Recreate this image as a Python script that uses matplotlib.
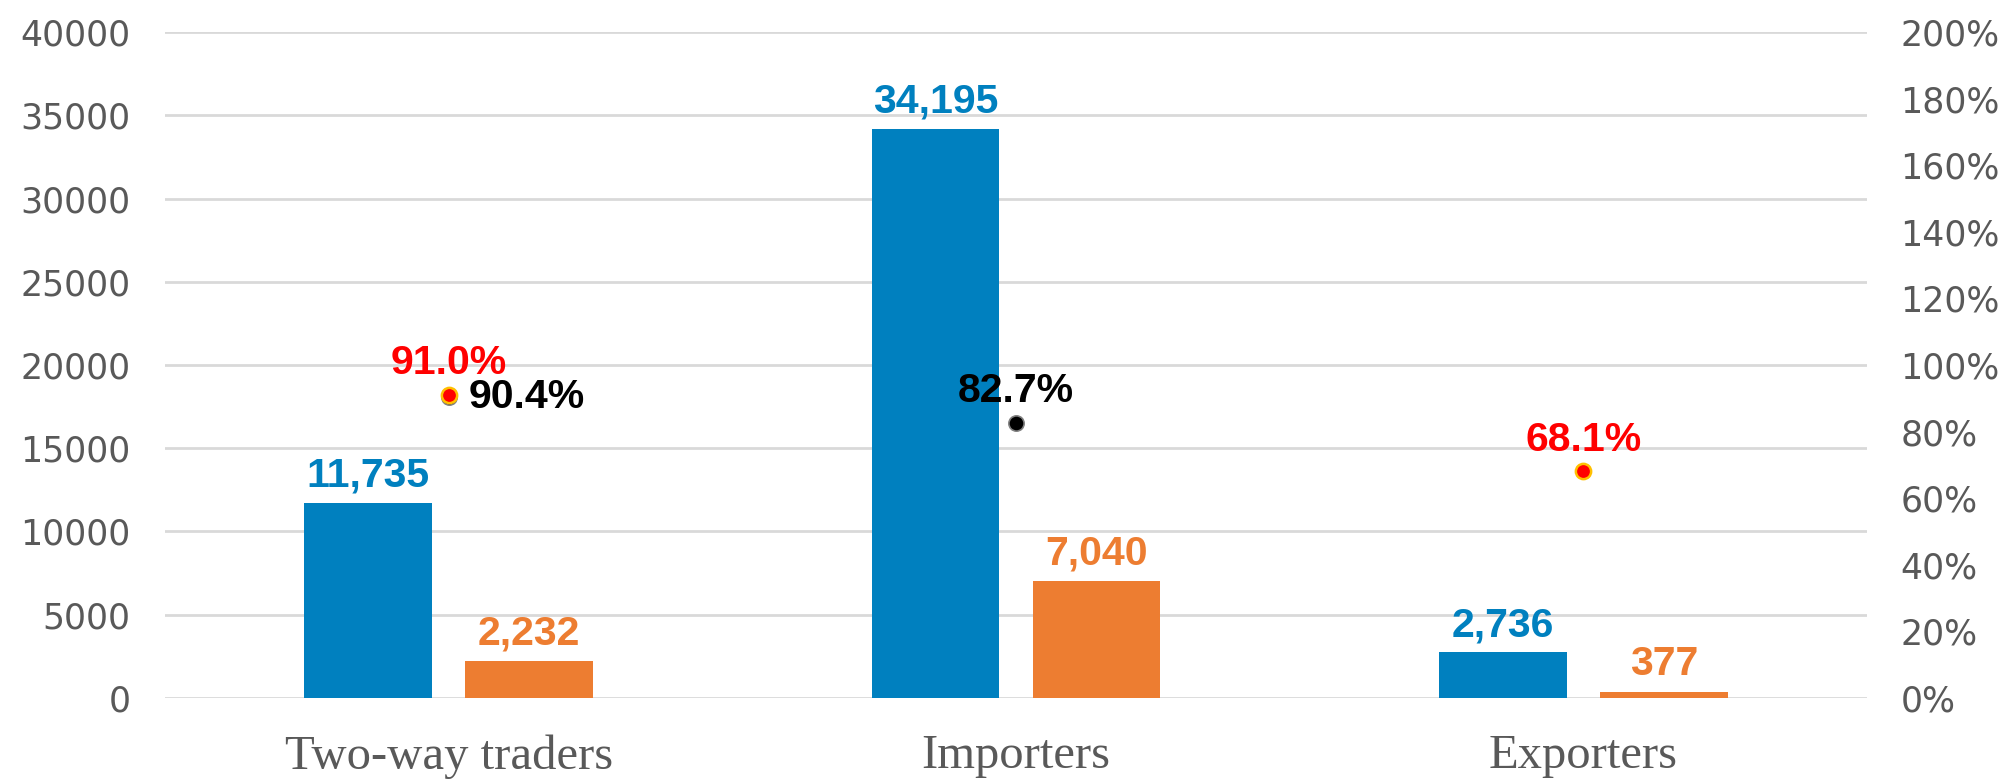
import matplotlib.pyplot as plt
import numpy as np

categories = ['Two-way traders', 'Importers', 'Exporters']
blue_values = [11735, 34195, 2736]
orange_values = [2232, 7040, 377]
red_share = [0.910, np.nan, 0.681]
black_share = [0.904, 0.827, np.nan]

BLUE = '#0080BF'
ORANGE = '#ED7D31'
GRID = '#D9D9D9'
TICK_GREY = '#595959'
LABEL_SIZE = 29.5


def draw_bars(ax, x):
    width = 0.225
    offset = 0.142
    bars_blue = ax.bar(x - offset, blue_values, width, color=BLUE, zorder=3)
    bars_orange = ax.bar(x + offset, orange_values, width, color=ORANGE, zorder=3)
    for bars, color in [(bars_blue, BLUE), (bars_orange, ORANGE)]:
        labels = [f'{v:,.0f}' for v in bars.datavalues]
        ax.bar_label(bars, labels=labels, padding=6, color=color,
                     fontsize=LABEL_SIZE, fontweight='bold', family='Liberation Sans')


def label_point(ax, xi, v, text, color, offset):
    dx, dy = offset
    if dx > 0:
        ha, va = 'left', 'center'
    else:
        ha, va = 'center', 'bottom'
    ax.annotate(text, (xi, v), xytext=(dx, dy), textcoords='offset points',
                ha=ha, va=va, color=color, fontsize=LABEL_SIZE,
                fontweight='bold', family='Liberation Sans')


def draw_shares(ax, x):
    ax.plot(x, black_share, 'o', color='black', markeredgecolor='#808080',
            markersize=11, markeredgewidth=1.2, zorder=4)
    ax.plot(x, red_share, 'o', color='#FF0000', markeredgecolor='#FFC000',
            markersize=11, markeredgewidth=1.8, zorder=5)

    # two-way traders has both dots nearly on top of each other,
    # so its black label sits to the right instead of above
    black_offsets = [(14, 0), (0, 9), (0, 9)]
    for xi, v, off in zip(x, black_share, black_offsets):
        if not np.isnan(v):
            label_point(ax, xi, v, f'{v:.1%}', 'black', off)
    for xi, v in zip(x, red_share):
        if not np.isnan(v):
            label_point(ax, xi, v, f'{v:.1%}', '#FF0000', (0, 9))


fig = plt.figure(figsize=(20.1, 7.79), dpi=100)
ax = fig.add_axes([0.0821, 0.104, 0.8468, 0.8549])
x = np.arange(len(categories))

draw_bars(ax, x)
ax.set_xlim(-0.5, 2.5)
ax.set_ylim(0, 40000)
ax.set_yticks(np.arange(0, 40001, 5000))
ax.yaxis.grid(True, color=GRID, linewidth=2, zorder=0)
ax.set_axisbelow(True)
ax.set_xticks(x)
ax.set_xticklabels(categories, family='Liberation Serif', fontsize=35, color=TICK_GREY)
ax.tick_params(axis='x', length=0, pad=26)
ax.tick_params(axis='y', length=0, pad=25, labelsize=25, labelcolor=TICK_GREY)
for spine in ax.spines.values():
    spine.set_visible(False)

ax2 = ax.twinx()
ax2.set_ylim(0, 2.0)
ax2.set_yticks(np.arange(0, 2.01, 0.2))
ax2.set_yticklabels([f'{t:.0f}%' for t in np.arange(0, 201, 20)])
ax2.tick_params(axis='y', length=0, pad=24, labelsize=25, labelcolor=TICK_GREY)
for spine in ax2.spines.values():
    spine.set_visible(False)
draw_shares(ax2, x)

fig.savefig('out.png', dpi=100)
